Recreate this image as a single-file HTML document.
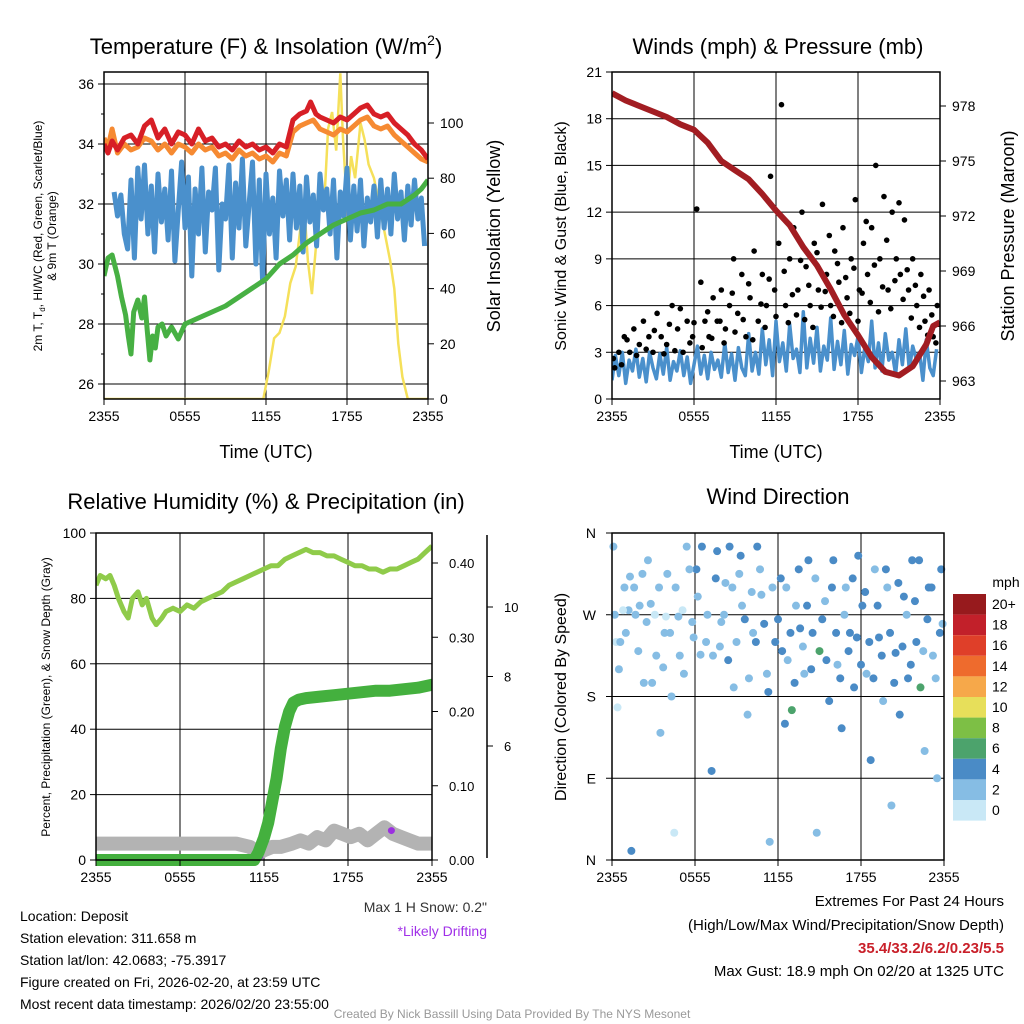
<!DOCTYPE html>
<html><head><meta charset="utf-8">
<style>
html,body{margin:0;padding:0;background:#fff;}
svg{display:block;font-family:"Liberation Sans",sans-serif;}
</style></head>
<body>
<svg id="c" width="1024" height="1024" viewBox="0 0 1024 1024"></svg>
<script>
// ---------- DATA ----------
const xTickLabels = ["2355","0555","1155","1755","2355"];
const tempRed = [[0,34.0],[0.3,33.7],[0.6,34.1],[1,33.8],[1.5,34.2],[2,34.3],[2.5,34.0],[3,34.6],[3.5,34.8],[4,34.2],[4.5,34.5],[5,34.0],[5.5,34.4],[6,34.3],[6.5,34.0],[7,34.5],[7.5,34.1],[8,34.2],[8.5,33.9],[9,34.0],[9.5,33.8],[10,34.1],[10.5,33.9],[11,34.0],[11.5,33.8],[12,33.9],[12.5,33.7],[13,34.0],[13.5,33.9],[14,34.8],[14.5,35.0],[15,35.1],[15.3,35.4],[15.7,35.0],[16,34.9],[16.5,34.8],[17,34.7],[17.5,34.9],[18,34.8],[18.5,35.0],[19,35.2],[19.5,35.3],[20,35.0],[20.5,34.9],[21,35.0],[21.5,34.7],[22,34.5],[22.5,34.3],[23,34.0],[23.5,33.8],[24,33.5]];
const temp9m = [[0,34.2],[0.3,33.9],[0.6,34.5],[1,33.7],[1.5,34.0],[2,33.8],[2.5,33.9],[3,34.2],[3.5,34.1],[4,33.8],[4.5,34.0],[5,33.7],[5.5,34.0],[6,33.9],[6.5,33.7],[7,34.0],[7.5,33.8],[8,33.9],[8.5,33.6],[9,33.7],[9.5,33.5],[10,33.8],[10.5,33.6],[11,33.7],[11.5,33.5],[12,33.6],[12.5,33.4],[13,33.7],[13.5,33.6],[14,34.4],[14.5,34.6],[15,34.7],[15.5,34.8],[16,34.5],[16.5,34.4],[17,34.3],[17.5,34.5],[18,34.4],[18.5,34.6],[19,34.8],[19.5,34.9],[20,34.6],[20.5,34.5],[21,34.6],[21.5,34.3],[22,34.1],[22.5,33.9],[23,33.7],[23.5,33.5],[24,33.4]];
const dewGreen = [[0,29.6],[0.3,30.2],[0.6,30.3],[1,29.6],[1.3,28.9],[1.6,28.3],[1.8,27.6],[2,27.0],[2.2,28.4],[2.5,28.8],[2.8,28.2],[3,28.9],[3.2,27.8],[3.4,26.8],[3.6,27.6],[3.8,27.2],[4,27.9],[4.3,28.0],[4.6,27.6],[5,27.9],[5.5,27.5],[6,28.0],[7,28.2],[8,28.4],[9,28.6],[10,28.9],[11,29.2],[12,29.5],[13,30.0],[14,30.3],[15,30.7],[16,31.0],[17,31.3],[18,31.5],[19,31.7],[20,31.8],[21,32.0],[22,32.0],[23,32.3],[23.5,32.5],[24,32.8]];
const wcBlue = [32.4,31.6,32.3,31.0,30.5,
32.8,30.2,33.2,31.5,33.3,31.0,32.6,30.4,33.0,31.4,32.5,30.8,
33.1,30.1,31.8,33.4,31.2,32.9,29.6,32.5,31.0,33.2,30.4,32.4,
31.8,33.2,29.8,32.0,31.5,33.3,30.2,32.7,31.2,33.5,30.6,32.0,
33.4,30.0,32.8,29.4,33.0,31.0,32.2,30.2,33.1,31.6,32.8,30.8,
33.0,31.2,32.6,30.4,32.9,31.4,32.3,30.6,33.0,31.8,32.5,31.0,
32.8,30.2,32.4,31.6,33.2,30.8,32.6,31.1,32.8,30.6,32.2,31.4,
32.6,30.9,32.8,31.2,32.5,31.0,33.0,31.5,32.4,30.8,32.6,31.3,32.8,31.5,32.2,30.6];
const solar = [[0,0],[11.8,0],[12.2,10],[12.6,22],[13.0,24],[13.4,30],[13.8,42],[14.2,48],[14.5,60],[14.8,72],[15.1,50],[15.4,38],[15.7,55],[16,82],[16.3,70],[16.6,98],[16.9,104],[17.2,90],[17.5,118],[17.7,95],[18,70],[18.3,88],[18.6,80],[19,100],[19.3,94],[19.6,85],[20,80],[20.4,70],[20.8,60],[21.2,50],[21.5,40],[21.8,20],[22.1,8],[22.5,0],[24,0]];
const windSust = [1.2,2.8,1.5,3.0,1.0,2.5,1.8,3.2,1.4,2.6,1.1,3.0,2.0,1.3,2.9,1.6,3.3,1.2,2.4,1.8,3.1,1.5,2.7,1.0,2.2,3.4,1.6,2.8,1.3,3.0,1.9,2.5,1.4,3.6,1.7,2.9,1.2,3.3,2.0,1.5,4.2,1.8,3.0,1.6,4.5,2.2,3.8,1.5,5.0,2.4,3.6,1.8,4.8,2.6,3.2,1.7,5.6,2.0,3.9,2.3,4.6,1.8,3.4,2.5,5.2,1.9,3.7,2.2,4.4,1.6,3.5,2.8,4.0,1.7,3.3,2.4,5.0,2.0,3.6,1.8,4.2,2.5,3.0,1.6,3.8,2.2,4.5,1.9,3.4,2.6,3.0,1.2,3.8,2.0,1.5,3.2];
const gustDots = [[0.2,2],[0.5,3],[0.9,4],[1.3,3],[1.6,4.5],[2,3.5],[2.3,5],[2.7,4],[3,3],[3.3,5.5],[3.6,4],[4,3.5],[4.4,6],[4.8,4.5],[5.2,3],[5.5,5],[5.9,4],[6.2,12.2],[6.5,7.5],[6.8,5],[7.1,4],[7.4,6.5],[7.7,5],[8,7],[8.3,4.5],[8.6,6],[8.9,9],[9.2,5.5],[9.5,8],[9.8,4],[10.1,6.5],[10.4,9.5],[10.7,5],[11,8],[11.3,6],[11.6,14.3],[11.9,7],[12.2,10],[12.4,18.9],[12.7,6],[13,9],[13.3,11],[13.6,7],[13.9,12],[14.2,8.5],[14.5,6],[14.8,10],[15.1,7],[15.4,12.5],[15.7,8],[16,6],[16.3,9.5],[16.6,7.5],[16.9,11],[17.2,6.5],[17.5,9],[17.8,12.8],[18.1,7],[18.4,10],[18.7,8],[19,11],[19.3,15],[19.6,9],[19.9,13],[20.2,7],[20.5,12],[20.8,9],[21.1,8],[21.4,11.5],[21.7,7],[22,9],[22.3,6],[22.6,8],[22.9,5],[23.2,7],[23.5,4],[23.8,6],
[0.1,2.6],[0.7,2.2],[1.1,3.8],[1.8,2.8],[2.5,3.2],[3.1,4.4],[3.8,2.9],[4.2,4.8],[4.6,3.1],[5.0,5.8],[5.7,3.6],[6.0,4.9],[6.6,3.3],[7.0,5.6],[7.3,3.9],[7.9,5.0],[8.2,3.6],[8.8,6.8],[9.0,4.3],[9.6,5.1],[10.0,7.4],[10.3,3.8],[10.9,6.1],[11.2,4.6],[11.5,7.7],[12.0,5.3],[12.6,8.2],[12.9,4.9],[13.2,6.7],[13.5,5.4],[13.8,8.9],[14.1,5.1],[14.4,7.3],[14.7,4.6],[15.0,9.4],[15.3,5.9],[15.6,6.9],[15.9,10.5],[16.2,5.3],[16.5,8.7],[16.8,4.9],[17.1,7.8],[17.4,5.5],[17.7,8.4],[18.0,5.0],[18.3,6.8],[18.6,11.4],[18.9,6.2],[19.2,8.6],[19.5,5.6],[19.8,7.2],[20.1,10.2],[20.4,5.8],[20.7,7.6],[21.0,12.6],[21.3,6.4],[21.6,8.3],[21.9,5.2],[22.2,7.3],[22.5,4.6],[22.8,6.6],[23.1,4.1],[23.4,5.4],[23.7,3.6],[23.9,4.8]];
const pressure = [[0,978.7],[1,978.3],[2,978.0],[3,977.7],[4,977.4],[5,977.0],[6,976.7],[7,976.0],[8,975.0],[9,974.5],[10,974.0],[11,973.2],[12,972.3],[13,971.5],[14,970.3],[15,969.3],[16,968.0],[17,966.6],[18,965.5],[19,964.3],[20,963.5],[21,963.3],[22,963.8],[23,965.0],[23.5,966.0],[24,966.2]];
const rhLine = [[0,84],[0.3,87],[0.7,86],[1,87],[1.3,84],[1.6,80],[2,76],[2.3,74],[2.6,80],[3,82],[3.3,78],[3.6,80],[4,74],[4.3,72],[4.7,74],[5,76],[5.5,77],[6,76],[6.5,78],[7,77],[7.5,79],[8,80],[8.5,81],[9,82],[9.5,84],[10,85],[10.5,86],[11,87],[11.5,88],[12,89],[12.5,90],[13,90],[13.5,92],[14,93],[14.5,94],[15,95],[15.5,94],[16,94],[16.5,93],[17,93],[17.5,92],[18,91],[18.5,90],[19,90],[19.5,89],[20,89],[20.5,88],[21,89],[21.5,89],[22,90],[22.5,91],[23,92],[23.5,94],[24,96]];
const precip = [[0,0],[2,0],[4,0],[6,0],[8,0],[10,0],[11.3,0],[11.6,0.01],[12,0.03],[12.3,0.05],[12.6,0.08],[12.9,0.11],[13.2,0.15],[13.5,0.18],[13.8,0.2],[14.1,0.212],[14.5,0.216],[15,0.218],[16,0.22],[17,0.222],[18,0.224],[19,0.226],[20,0.228],[21,0.228],[22,0.23],[23,0.232],[24,0.236]];
const snowGray = [[0,5],[2,5],[4,5],[6,5],[8,5],[10,5],[11,4],[11.6,2],[12,3],[12.6,4],[13.2,4],[14,5],[14.6,6],[15.2,5],[15.8,7],[16.4,6],[17,9],[17.6,8],[18.2,7],[18.8,8],[19.4,6],[20,8],[20.6,10],[21.2,8],[21.8,7],[22.4,6],[23,5],[24,5]];
const drift = [[11.7,1],[21.1,9]];
const dirPts = [[0.1,345,1],[0.3,240,0],[0.4,168,0],[0.6,240,1],[0.9,300,1],[1.2,275,1],[1.4,10,2],[1.6,300,1],[2,280,1],[2.3,195,1],[2.6,330,1],[2.8,282,1],[3.2,225,1],[3.5,140,1],[3.8,250,1],[4,315,1],[4.3,180,1],[4.5,30,0],[4.8,268,1],[5.2,205,1],[5.4,345,1],[5.8,262,1],[6.1,320,2],[6.4,226,1],[6.8,240,1],[7.2,98,2],[7.6,340,2],[7.9,262,1],[8.2,305,1],[8.5,345,2],[8.8,190,1],[9.2,315,1],[9.4,280,1],[9.8,160,1],[10.2,250,1],[10.5,345,2],[10.8,292,1],[11.2,205,1],[11.4,20,1],[11.8,240,2],[12.2,310,2],[12.5,150,2],[12.7,220,1],[13,165,3],[13.3,280,1],[13.6,255,2],[13.9,205,1],[14.2,330,2],[14.5,250,2],[14.8,30,1],[15,230,3],[15.4,285,1],[15.7,175,2],[16,330,2],[16.3,215,1],[16.6,145,2],[16.9,300,1],[17.2,250,2],[17.5,190,2],[17.8,335,2],[18.1,280,2],[18.4,205,1],[18.7,110,2],[19,320,1],[19.3,245,2],[19.6,175,1],[19.9,300,1],[20.2,60,1],[20.5,228,2],[20.8,160,2],[21.1,290,2],[21.4,200,2],[21.7,330,2],[22,240,2],[22.3,190,3],[22.6,120,1],[22.9,300,2],[23.2,225,1],[23.5,90,1],[23.8,320,2],[23.9,260,1],
[0.2,270,1],[0.5,210,1],[0.8,275,0],[1.0,250,1],[1.3,312,1],[1.7,270,1],[1.9,230,1],[2.2,315,1],[2.5,262,1],[2.9,195,1],[3.1,270,0],[3.4,300,1],[3.7,212,1],[3.9,268,0],[4.2,250,1],[4.6,300,1],[4.9,225,1],[5.1,275,0],[5.6,320,1],[5.9,245,1],[6.2,290,1],[6.5,345,2],[6.9,270,1],[7.3,225,1],[7.5,310,2],[7.8,235,1],[8.1,270,1],[8.4,220,2],[8.7,300,1],[9.0,240,1],[9.3,335,2],[9.6,265,2],[9.9,200,1],[10.1,295,1],[10.4,240,2],[10.7,320,1],[11.0,260,2],[11.3,185,2],[11.6,300,1],[12.0,265,2],[12.3,230,2],[12.6,300,1],[12.9,250,2],[13.2,195,2],[13.5,320,2],[13.8,235,1],[14.1,280,2],[14.4,210,2],[14.7,310,1],[15.2,265,2],[15.5,220,2],[15.9,300,2],[16.2,250,2],[16.5,200,2],[16.8,270,1],[17.1,230,2],[17.4,310,2],[17.7,245,2],[18.0,215,2],[18.3,295,2],[18.6,240,2],[18.9,200,2],[19.2,280,2],[19.5,225,2],[19.8,320,2],[20.1,250,2],[20.4,195,2],[20.7,305,2],[21.0,235,2],[21.3,270,1],[21.6,215,2],[21.9,285,2],[22.2,330,2],[22.5,230,1],[22.8,265,2],[23.1,300,2],[23.4,200,1],[23.7,250,2]];
const speedLabels = ["20+","18","16","14","12","10","8","6","4","2","0"];
const speedColors = ["#c9e8f6","#86bde4","#4a8bc6","#4ca36c","#7dbf45","#e7df5a","#f6a84a","#ee6b2d","#df3f29","#c2202a","#971a1d"];

// ---------- HELPERS ----------
const NS="http://www.w3.org/2000/svg";
const svg=document.getElementById('c');
function mk(tag,attrs,parent){const e=document.createElementNS(NS,tag);for(const k in attrs)e.setAttribute(k,attrs[k]);(parent||svg).appendChild(e);return e;}
function txt(x,y,s,size,anchor,extra,parent){const e=mk('text',Object.assign({x:x,y:y,'font-size':size,'text-anchor':anchor||'middle',fill:'#000'},extra||{}),parent);e.textContent=s;return e;}
function lin(d0,d1,r0,r1){return v=>r0+(v-d0)/(d1-d0)*(r1-r0);}
function path(pts,fx,fy){return pts.map((p,i)=>(i?'L':'M')+fx(p[0]).toFixed(1)+' '+fy(p[1]).toFixed(1)).join(' ');}
function frame(g,x0,x1,y0,y1,name){
  const r=mk('rect',{x:x0,y:y0,width:x1-x0,height:y1-y0,fill:'none',stroke:'#000','stroke-width':1.5},g);
  
  
}
function xAxis(g,fx,y1,name){
  xTickLabels.forEach((l,i)=>{
    const x=fx(i*6);
    mk('line',{x1:x,x2:x,y1:y1,y2:y1+6,stroke:'#000'},g);
    const t=txt(x,y1+22,l,14,'middle',{},g);
    
    
  });
}

// ===== PANEL 1 =====
(function(){
  const g=mk('g',{});
  
  
  const X0=104,X1=428,Y0=72,Y1=399;
  const fx=lin(0,24,X0,X1), fy=lin(26,36,384,84), fs=lin(0,100,399,123);
  const clip=mk('clipPath',{id:'cp1'},g);mk('rect',{x:X0,y:Y0,width:X1-X0,height:Y1-Y0},clip);
  for(let i=0;i<=4;i++)mk('line',{x1:fx(i*6),x2:fx(i*6),y1:Y0,y2:Y1,stroke:'#000','stroke-width':1},g);
  for(let v=26;v<=36;v+=2){mk('line',{x1:X0,x2:X1,y1:fy(v),y2:fy(v),stroke:'#000','stroke-width':1},g);
    mk('line',{x1:X0-6,x2:X0,y1:fy(v),y2:fy(v),stroke:'#000'},g);
    const t=txt(X0-10,fy(v)+5,String(v),14,'end',{},g);}
  for(let v=27;v<=35;v+=2)mk('line',{x1:X0-3,x2:X0,y1:fy(v),y2:fy(v),stroke:'#000'},g);
  for(let v=0;v<=100;v+=20){mk('line',{x1:X1,x2:X1+6,y1:fs(v),y2:fs(v),stroke:'#000'},g);
    const t=txt(X1+12,fs(v)+5,String(v),14,'start',{},g);}
  const dg=mk('g',{'clip-path':'url(#cp1)'},g);
  const s=mk('path',{d:path(solar,fx,fs),fill:'none',stroke:'#f5e05a','stroke-width':2.5},dg);
  
  const bl=wcBlue.map((v,i)=>[0.75+i*0.25,v]);
  const b=mk('path',{d:path(bl,fx,fy),fill:'none',stroke:'#4a90cc','stroke-width':5,'stroke-linejoin':'round'},dg);
  
  const gr=mk('path',{d:path(dewGreen,fx,fy),fill:'none',stroke:'#47b043','stroke-width':5,'stroke-linejoin':'round'},dg);
  
  const o=mk('path',{d:path(temp9m,fx,fy),fill:'none',stroke:'#f68a32','stroke-width':5,'stroke-linejoin':'round'},dg);
  
  const r=mk('path',{d:path(tempRed,fx,fy),fill:'none',stroke:'#d71f26','stroke-width':5,'stroke-linejoin':'round'},dg);
  
  frame(g,X0,X1,Y0,Y1,'temperature');
  xAxis(g,fx,Y1,'temperature');
  const t1=txt(266,54,'',22,'middle',{},g);t1.innerHTML='Temperature (F) &amp; Insolation (W/m<tspan font-size="14" dy="-9">2</tspan><tspan dy="9">)</tspan>';
  
  const xt=txt(266,458,'Time (UTC)',18,'middle',{},g);
  const yl=mk('text',{transform:'translate(42,236) rotate(-90)','font-size':12,'text-anchor':'middle'},g);
  yl.innerHTML='<tspan x="0" dy="0">2m T, T<tspan font-size="8" dy="3">d</tspan><tspan dy="-3">, HI/WC (Red, Green, Scarlet/Blue)</tspan></tspan><tspan x="0" dy="14">&amp; 9m T (Orange)</tspan>';
  
  const yr=txt(0,0,'Solar Insolation (Yellow)',18,'middle',{transform:'translate(500,236) rotate(-90)'},g);
  
})();

// ===== PANEL 2 =====
(function(){
  const g=mk('g',{});
  
  const X0=612,X1=940,Y0=72,Y1=399;
  const fx=lin(0,24,X0,X1), fy=lin(0,21,Y1,Y0), fp=lin(963,978,381,106);
  const clip=mk('clipPath',{id:'cp2'},g);mk('rect',{x:X0,y:Y0,width:X1-X0,height:Y1-Y0},clip);
  for(let i=0;i<=4;i++)mk('line',{x1:fx(i*6),x2:fx(i*6),y1:Y0,y2:Y1,stroke:'#000'},g);
  for(let v=0;v<=21;v+=3){mk('line',{x1:X0,x2:X1,y1:fy(v),y2:fy(v),stroke:'#000'},g);
    mk('line',{x1:X0-6,x2:X0,y1:fy(v),y2:fy(v),stroke:'#000'},g);
    const t=txt(X0-10,fy(v)+5,String(v),14,'end',{},g);}
  for(let v=963;v<=978;v+=3){mk('line',{x1:X1,x2:X1+6,y1:fp(v),y2:fp(v),stroke:'#000'},g);
    const t=txt(X1+12,fp(v)+5,String(v),14,'start',{},g);}
  const dg=mk('g',{'clip-path':'url(#cp2)'},g);
  const ws=windSust.map((v,i)=>[i*0.25,v]);
  const w=mk('path',{d:path(ws,fx,fy),fill:'none',stroke:'#4a90cc','stroke-width':3.5,'stroke-linejoin':'round'},dg);
  
  gustDots.forEach(p=>{const c=mk('circle',{cx:fx(p[0]),cy:fy(p[1]),r:2.8,fill:'#000'},dg);
    });
  const pr=mk('path',{d:path(pressure,fx,fp),fill:'none',stroke:'#a21d22','stroke-width':6,'stroke-linejoin':'round'},dg);
  
  frame(g,X0,X1,Y0,Y1,'winds');
  xAxis(g,fx,Y1,'winds');
  const t1=txt(778,54,'Winds (mph) & Pressure (mb)',22,'middle',{},g);
  const xt=txt(776,458,'Time (UTC)',18,'middle',{},g);
  const yl=txt(0,0,'Sonic Wind & Gust (Blue, Black)',16,'middle',{transform:'translate(566,236) rotate(-90)'},g);
  const yr=txt(0,0,'Station Pressure (Maroon)',18,'middle',{transform:'translate(1014,236) rotate(-90)'},g);
})();

// ===== PANEL 3 =====
(function(){
  const g=mk('g',{});
  
  const X0=96,X1=432,Y0=533,Y1=860;
  const fx=lin(0,24,X0,X1), fy=lin(0,100,Y1,Y0), fpr=lin(0,0.4,860,563), fsn=lin(6,10,746,607);
  const clip=mk('clipPath',{id:'cp3'},g);mk('rect',{x:X0,y:Y0-10,width:X1-X0,height:Y1-Y0+20},clip);
  for(let i=0;i<=4;i++)mk('line',{x1:fx(i*6),x2:fx(i*6),y1:Y0,y2:Y1,stroke:'#000'},g);
  for(let v=0;v<=100;v+=20){mk('line',{x1:X0,x2:X1,y1:fy(v),y2:fy(v),stroke:'#000'},g);
    mk('line',{x1:X0-6,x2:X0,y1:fy(v),y2:fy(v),stroke:'#000'},g);
    const t=txt(X0-10,fy(v)+5,String(v),14,'end',{},g);}
  [0,0.1,0.2,0.3,0.4].forEach(v=>{mk('line',{x1:X1,x2:X1+6,y1:fpr(v),y2:fpr(v),stroke:'#000'},g);
    const t=txt(X1+17,fpr(v)+5,v.toFixed(2),13,'start',{},g);});
  const sa=mk('line',{x1:487,x2:487,y1:535,y2:858,stroke:'#000','stroke-width':1.5},g);
  
  [6,8,10].forEach(v=>{mk('line',{x1:487,x2:493,y1:fsn(v),y2:fsn(v),stroke:'#000'},g);
    const t=txt(504,fsn(v)+5,String(v),13,'start',{},g);});
  const dg=mk('g',{'clip-path':'url(#cp3)'},g);
  const sn=mk('path',{d:path(snowGray,fx,fy),fill:'none',stroke:'#b3b3b3','stroke-width':14,'stroke-linejoin':'round','stroke-linecap':'round'},dg);
  
  drift.forEach(p=>{const c=mk('circle',{cx:fx(p[0]),cy:fy(p[1]),r:3.5,fill:'#9b30e0'},dg);});
  const pp=mk('path',{d:path(precip,fx,fpr),fill:'none',stroke:'#44b03e','stroke-width':12,'stroke-linejoin':'round','stroke-linecap':'round'},dg);
  
  const rh=mk('path',{d:path(rhLine,fx,fy),fill:'none',stroke:'#8fcb4a','stroke-width':5,'stroke-linejoin':'round'},dg);
  
  frame(g,X0,X1,Y0,Y1,'humidity');
  xAxis(g,fx,Y1,'humidity');
  const t1=txt(266,509,'Relative Humidity (%) & Precipitation (in)',22,'middle',{},g);
  const yl=txt(0,0,'Percent, Precipitation (Green), & Snow Depth (Gray)',12,'middle',{transform:'translate(50,697) rotate(-90)'},g);
  const ms=txt(487,912,'Max 1 H Snow: 0.2"',14,'end',{fill:'#333'},g);
  const ld=txt(487,936,'*Likely Drifting',14,'end',{fill:'#a030e8'},g);
})();

// ===== PANEL 4 =====
(function(){
  const g=mk('g',{});
  
  const X0=612,X1=944,Y0=533,Y1=860;
  const fx=lin(0,24,X0,X1), fy=lin(0,360,Y1,Y0);
  for(let i=0;i<=4;i++)mk('line',{x1:fx(i*6),x2:fx(i*6),y1:Y0,y2:Y1,stroke:'#000'},g);
  ["N","E","S","W","N"].forEach((l,i)=>{const v=i*90;mk('line',{x1:X0,x2:X1,y1:fy(v),y2:fy(v),stroke:'#000'},g);
    mk('line',{x1:X0-6,x2:X0,y1:fy(v),y2:fy(v),stroke:'#000'},g);
    const t=txt(X0-16,fy(v)+5,l,14,'end',{},g);});
  dirPts.forEach(p=>{const c=mk('circle',{cx:fx(p[0]),cy:fy(p[1]),r:4,fill:speedColors[p[2]]},g);
    });
  frame(g,X0,X1,Y0,Y1,'wind-direction');
  xAxis(g,fx,Y1,'wind-direction');
  const t1=txt(778,504,'Wind Direction',22,'middle',{},g);
  const yl=txt(0,0,'Direction (Colored By Speed)',16,'middle',{transform:'translate(566,697) rotate(-90)'},g);
  const lg=mk('g',{},g);
  const lt=txt(1006,587,'mph',14,'middle',{},lg);
  speedLabels.forEach((l,i)=>{const y=594+i*20.6;
    const rc=mk('rect',{x:953,y:y,width:33,height:20.6,fill:speedColors[10-i]},lg);
    
    const t=txt(992,y+15,l,14,'start',{},lg);});
})();

// ===== TEXT INFO =====
(function(){
  const g=mk('g',{});
  ["Location: Deposit","Station elevation: 311.658 m","Station lat/lon: 42.0683; -75.3917","Figure created on Fri, 2026-02-20, at 23:59 UTC","Most recent data timestamp: 2026/02/20 23:55:00"].forEach((s,i)=>{
    const t=txt(20,921+i*22,s,14,'start',{},g);});
  const e=mk('g',{});
  const a=txt(1004,906,'Extremes For Past 24 Hours',15,'end',{},e);
  const b=txt(1004,930,'(High/Low/Max Wind/Precipitation/Snow Depth)',15,'end',{},e);
  const c=txt(1004,953,'35.4/33.2/6.2/0.23/5.5',15,'end',{fill:'#c9202a','font-weight':'bold'},e);
  const d=txt(1004,976,'Max Gust: 18.9 mph On 02/20 at 1325 UTC',15,'end',{},e);
  const f=txt(512,1018,'Created By Nick Bassill Using Data Provided By The NYS Mesonet',12,'middle',{fill:'#999'});
})();
</script>
</body></html>
